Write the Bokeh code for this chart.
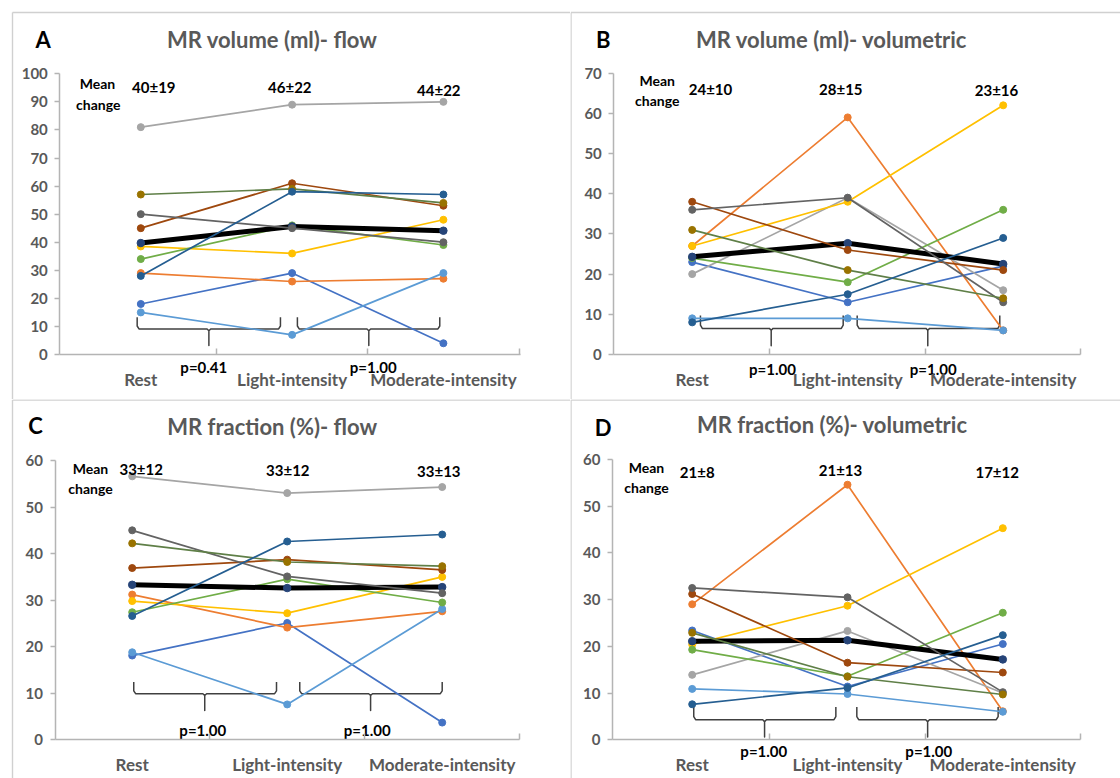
from bokeh.plotting import figure
from bokeh.models import LinearAxis, FixedTicker, Range1d
from bokeh.layouts import column, row
from bokeh.core.properties import value
from bokeh.embed import file_html
from bokeh.resources import INLINE

CATEGORIES = ["Rest", "Light-intensity", "Moderate-intensity"]

# ---------------- A: MR volume (ml) - flow ----------------
A_P1 = [18, 29, 4]
A_P2 = [29, 26, 27]
A_P3 = [81, 89, 90]
A_P4 = [38.5, 36, 48]
A_P5 = [15, 7, 29]
A_P6 = [34, 46, 39]
A_P7 = [45, 61, 53]
A_P8 = [50, 45, 40]
A_P9 = [57, 59, 54]
A_P10 = [28, 58, 57]
A_MEAN = [39.7, 45.6, 44.1]
A_MEAN_LABELS = ["40±19", "46±22", "44±22"]
A_P_VALUES = ["p=0.41", "p=1.00"]
A_TICKS = [0, 10, 20, 30, 40, 50, 60, 70, 80, 90, 100]

# ---------------- B: MR volume (ml) - volumetric ----------------
B_P1 = [23, 13, 22]
B_P2 = [27, 59, 6]
B_P3 = [20, 39, 16]
B_P4 = [27, 38, 62]
B_P5 = [9, 9, 6]
B_P6 = [24, 18, 36]
B_P7 = [38, 26, 21]
B_P8 = [36, 39, 13]
B_P9 = [31, 21, 14]
B_P10 = [8, 15, 29]
B_MEAN = [24.3, 27.7, 22.5]
B_MEAN_LABELS = ["24±10", "28±15", "23±16"]
B_P_VALUES = ["p=1.00", "p=1.00"]
B_TICKS = [0, 10, 20, 30, 40, 50, 60, 70]

# ---------------- C: MR fraction (%) - flow ----------------
C_P1 = [18.1, 25.1, 3.7]
C_P2 = [31.2, 24.1, 27.6]
C_P3 = [56.6, 53.0, 54.3]
C_P4 = [29.8, 27.2, 35.0]
C_P5 = [18.8, 7.6, 28.1]
C_P6 = [27.4, 34.5, 29.5]
C_P7 = [36.9, 38.7, 36.5]
C_P8 = [45.0, 35.1, 31.5]
C_P9 = [42.2, 38.2, 37.3]
C_P10 = [26.6, 42.6, 44.1]
C_MEAN = [33.3, 32.6, 32.8]
C_MEAN_LABELS = ["33±12", "33±12", "33±13"]
C_P_VALUES = ["p=1.00", "p=1.00"]
C_TICKS = [0, 10, 20, 30, 40, 50, 60]

# ---------------- D: MR fraction (%) - volumetric ----------------
D_P1 = [23.4, 11.4, 20.5]
D_P2 = [29.0, 54.6, 6.1]
D_P3 = [13.9, 23.3, 10.0]
D_P4 = [20.4, 28.7, 45.3]
D_P5 = [10.9, 9.8, 6.0]
D_P6 = [19.3, 13.6, 27.2]
D_P7 = [31.2, 16.5, 14.4]
D_P8 = [32.5, 30.5, 10.2]
D_P9 = [22.9, 13.5, 9.7]
D_P10 = [7.6, 11.1, 22.4]
D_MEAN = [21.1, 21.3, 17.2]
D_MEAN_LABELS = ["21±8", "21±13", "17±12"]
D_P_VALUES = ["p=1.00", "p=1.00"]
D_TICKS = [0, 10, 20, 30, 40, 50, 60]

# ---------------- styles ----------------
LINE_COLORS = ["#4472C4", "#ED7D31", "#A5A5A5", "#FFC000", "#5B9BD5", "#70AD47",
               "#9E480E", "#636363", "#5F7F47", "#255E91"]
MARK_COLORS = ["#4472C4", "#ED7D31", "#A5A5A5", "#FFC000", "#5B9BD5", "#70AD47",
               "#9E480E", "#636363", "#997300", "#255E91"]
MEAN_MARK = "#264478"
AX_COL = "#B4B4B4"
BORDER_COL = "#D0D0D0"
LBL_COL = "#595959"
FONT = "Lato"

# pixel geometry of each panel (window coordinates)
GEOM = {
    "A": dict(fig=(0, 0, 570, 399), xax=59.3, xend=520, x0=140.3, dx=151.3, y0=354.0, py=2.807,
              border=(12, 12),
              letter=(42.7, 38.7), title=(271.7, 39.3), mean_word=(97, 83.3), change_word=(97.7, 104),
              mlab=[(153.3, 86.7), (289.3, 86.7), (438.3, 89)], plab=[(203.3, 366.7), (372.7, 366.7)],
              br=[(-0.024, 0.923, 0.45), (1.035, 1.976, 1.507)], bry=(13.3, 9.1, 3.2)),
    "B": dict(fig=(570, 0, 550, 399), xax=613.3, xend=1080, x0=691.7, dx=155.5, y0=354.0, py=4.019,
              border=(570, 12),
              letter=(602.7, 39.3), title=(831.3, 39.3), mean_word=(656.7, 80), change_word=(656.7, 100),
              mlab=[(710, 88.3), (840.3, 88.3), (996, 89.3)], plab=[(772, 368.3), (932.7, 368.3)],
              br=[(0.053, 0.971, 0.508), (1.061, 1.978, 1.515)], bry=(9.7, 6.5, 2.2)),
    "C": dict(fig=(0, 399, 570, 379), xax=54.5, xend=519, x0=131.7, dx=155.0, y0=739.3, py=4.655,
              border=(12, 399),
              letter=(35, 424.7), title=(271.7, 426), mean_word=(90, 467.7), change_word=(90, 487.7),
              mlab=[(140.7, 468.3), (287.3, 469.3), (438.3, 470.7)], plab=[(202.3, 729), (366.7, 729)],
              br=[(0.01, 0.931, 0.468), (1.081, 2.0, 1.538)], bry=(12.4, 9.9, 6.3)),
    "D": dict(fig=(570, 399, 550, 379), xax=612, xend=1080, x0=691.7, dx=155.3, y0=739.3, py=4.672,
              border=(570, 399),
              letter=(602.7, 427), title=(831.7, 424.3), mean_word=(646, 466.7), change_word=(646, 486.7),
              mlab=[(696.7, 471.7), (840, 469.3), (996.7, 471.7)], plab=[(763.3, 750.7), (928.3, 750.7)],
              br=[(0.01, 0.925, 0.466), (1.06, 1.97, 1.516)], bry=(7.0, 4.3, 0.6)),
}


def make_panel(key, title, series, mean, mean_labels, pvals, ticks):
    g = GEOM[key]
    fx, fy, W, H = g["fig"]
    X0, DX, Y0, PY = g["x0"], g["dx"], g["y0"], g["py"]

    def tx(px):
        return (px - X0) / DX

    def ty(py):
        return (Y0 - py) / PY

    p = figure(width=W, height=H, x_range=Range1d(tx(fx), tx(fx + W)),
               y_range=Range1d(ty(fy + H), ty(fy)), x_axis_type=None, y_axis_type=None,
               tools="", toolbar_location=None, output_backend="svg", min_border=0,
               outline_line_color=None, background_fill_color="white",
               border_fill_color="white", title=None)

    # panel borders (left and top)
    bx, by = g["border"]
    bxe = bx + 0.5 if bx == fx else bx
    bye = by + 0.5 if by == fy else by
    p.segment(x0=[tx(bxe), tx(bxe)], y0=[ty(bye), ty(bye)],
              x1=[tx(bxe), tx(fx + W + 5)], y1=[ty(fy + H + 5), ty(bye)],
              line_color=BORDER_COL, line_width=1.4)

    xs = [0, 1, 2]

    # brackets (curly-brace style)
    top, hor, bot = g["bry"]
    r = (top - hor) * 0.25
    for (L, R, S) in g["br"]:
        e = 0.012
        p.line([L, L, L + e, S - e, S, S, S, S + e, R - e, R, R],
               [top, hor + r, hor, hor, hor - r * 0.6, bot, hor - r * 0.6, hor, hor, hor + r, top],
               line_color="#404040", line_width=1.5, line_join="round")

    # series (Excel order: 6 patients, mean, remaining patients)
    def draw_patient(i):
        p.line(xs, series[i], line_color=LINE_COLORS[i], line_width=1.7)
        p.scatter(xs, series[i], size=7, fill_color=MARK_COLORS[i], line_color=MARK_COLORS[i])

    for i in range(6):
        draw_patient(i)
    p.line(xs, mean, line_color="black", line_width=5, line_join="round")
    p.scatter(xs, mean, size=7.5, fill_color=MEAN_MARK, line_color=MEAN_MARK)
    for i in range(6, len(series)):
        draw_patient(i)

    # texts
    def txt(pts, texts, size, color, style="bold"):
        p.text(x=[tx(a) for a, b in pts], y=[ty(b) for a, b in pts], text=texts,
               text_font=value(FONT), text_font_style=style, text_font_size=size,
               text_color=color, text_align="center", text_baseline="middle")

    txt([g["letter"]], [key], "22px", "black")
    txt([g["title"]], [title], "22px", LBL_COL)
    txt([g["mean_word"], g["change_word"]], ["Mean", "change"], "14px", "black")
    txt(g["mlab"], mean_labels, "15px", "black")
    txt(g["plab"], pvals, "15px", "black")

    xa = tx(g["xax"])
    xe = tx(g["xend"])
    ymax = ticks[-1]

    yax = LinearAxis(fixed_location=xa, bounds=(0, ymax), ticker=FixedTicker(ticks=ticks),
                     major_tick_out=5, major_tick_in=0, minor_tick_line_color=None,
                     axis_line_color=AX_COL, axis_line_width=1.5, major_tick_line_color=AX_COL,
                     major_tick_line_width=1.5,
                     major_label_text_font=FONT, major_label_text_font_style="bold",
                     major_label_text_font_size="15px", major_label_text_color=LBL_COL,
                     major_label_standoff=7)
    p.add_layout(yax, "left")

    xax = LinearAxis(fixed_location=0, bounds=(xa, xe), ticker=FixedTicker(ticks=[0.5, 1.5, 2.5]),
                     major_tick_in=6, major_tick_out=0, minor_tick_line_color=None,
                     axis_line_color=AX_COL, axis_line_width=1.5, major_tick_line_color=AX_COL,
                     major_tick_line_width=1.5,
                     major_label_overrides={0.5: "", 1.5: "", 2.5: ""})
    p.add_layout(xax, "below")

    cax = LinearAxis(fixed_location=0, ticker=FixedTicker(ticks=xs),
                     major_tick_in=0, major_tick_out=0, minor_tick_line_color=None,
                     axis_line_color=None, major_tick_line_color=None,
                     major_label_overrides={i: c for i, c in enumerate(CATEGORIES)},
                     major_label_text_font=FONT, major_label_text_font_style="bold",
                     major_label_text_font_size="17px", major_label_text_color=LBL_COL,
                     major_label_standoff=14)
    p.add_layout(cax, "below")
    return p


pA = make_panel("A", "MR volume (ml)- flow",
                [A_P1, A_P2, A_P3, A_P4, A_P5, A_P6, A_P7, A_P8, A_P9, A_P10],
                A_MEAN, A_MEAN_LABELS, A_P_VALUES, A_TICKS)
pB = make_panel("B", "MR volume (ml)- volumetric",
                [B_P1, B_P2, B_P3, B_P4, B_P5, B_P6, B_P7, B_P8, B_P9, B_P10],
                B_MEAN, B_MEAN_LABELS, B_P_VALUES, B_TICKS)
pC = make_panel("C", "MR fraction (%)- flow",
                [C_P1, C_P2, C_P3, C_P4, C_P5, C_P6, C_P7, C_P8, C_P9, C_P10],
                C_MEAN, C_MEAN_LABELS, C_P_VALUES, C_TICKS)
pD = make_panel("D", "MR fraction (%)- volumetric",
                [D_P1, D_P2, D_P3, D_P4, D_P5, D_P6, D_P7, D_P8, D_P9, D_P10],
                D_MEAN, D_MEAN_LABELS, D_P_VALUES, D_TICKS)

layout = column(row(pA, pB), row(pC, pD))
open("out.html", "w").write(file_html(layout, INLINE))
